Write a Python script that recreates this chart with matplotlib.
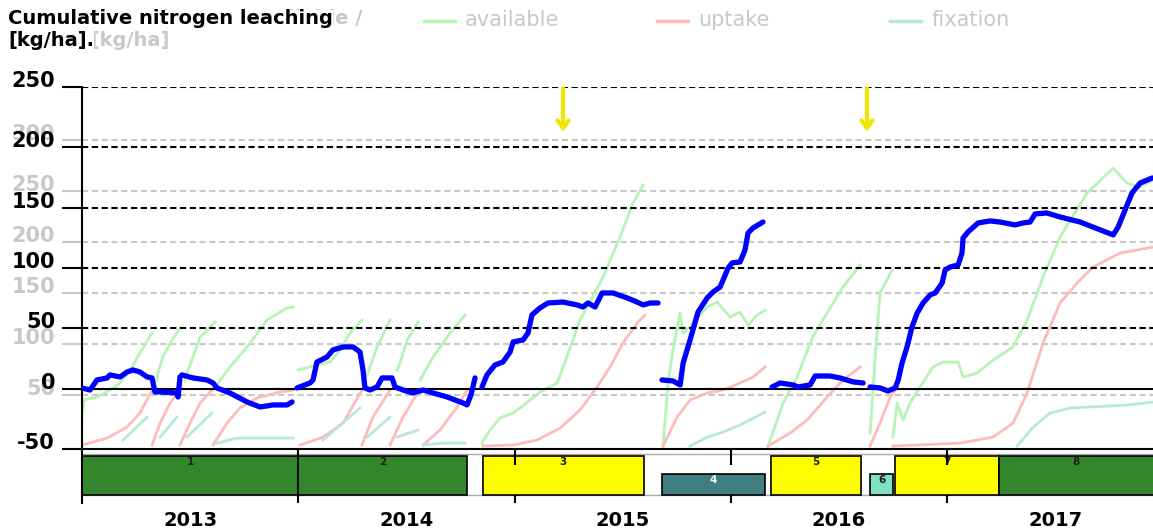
import matplotlib
matplotlib.use('Agg')
import matplotlib.pyplot as plt
from matplotlib.lines import Line2D

W, H, DPI = 1153, 532, 100

# time is in years since 1 Jan 2013
years = ['2013', '2014', '2015', '2016', '2017']
t_end = 4.951

# cumulative nitrogen leaching [kg/ha], one list per unbroken stretch
leach_t = [
    [0.000, 0.037, 0.069, 0.116, 0.129, 0.176, 0.208, 0.236, 0.268, 0.301, 0.324, 0.337, 0.361, 0.439,
     0.444, 0.453, 0.462, 0.513, 0.578, 0.606, 0.624, 0.684, 0.763, 0.823, 0.883, 0.948, 0.971],
    [0.994, 1.054, 1.068, 1.086, 1.133, 1.160, 1.207, 1.253, 1.285, 1.299, 1.308, 1.331, 1.364, 1.387,
     1.433, 1.447, 1.484, 1.530, 1.577, 1.623, 1.688, 1.762, 1.780, 1.798, 1.817],
    [1.849, 1.872, 1.909, 1.946, 1.979, 1.993, 2.039, 2.062, 2.080, 2.117, 2.154, 2.224, 2.288, 2.316,
     2.339, 2.372, 2.404, 2.455, 2.520, 2.566, 2.594, 2.626, 2.663],
    [2.681, 2.732, 2.765, 2.779, 2.811, 2.848, 2.890, 2.917, 2.950, 2.987, 3.005, 3.042, 3.065, 3.079,
     3.102, 3.148],
    [3.190, 3.227, 3.287, 3.310, 3.366, 3.389, 3.458, 3.504, 3.565, 3.611],
    [3.643, 3.689, 3.726, 3.759, 3.773, 3.791, 3.814, 3.837, 3.861, 3.888, 3.921, 3.944, 3.976, 3.990,
     4.013, 4.050, 4.068, 4.073, 4.096, 4.142, 4.198, 4.244, 4.313, 4.350, 4.383, 4.406, 4.461, 4.521,
     4.614, 4.767, 4.790, 4.822, 4.854, 4.892, 4.947],
]
leach_v = [
    [0.6, -1.1, 7.2, 8.9, 11.4, 9.7, 13.8, 15.5, 13.8, 9.7, 8.9, -2.7, -2.7, -3.6,
     -6.9, 9.7, 11.4, 8.9, 7.2, 4.7, 0.6, -3.6, -11.0, -15.2, -13.5, -13.5, -11.0],
    [0.6, 4.7, 7.2, 22.1, 26.3, 32.1, 34.6, 34.6, 30.4, 15.5, 0.6, -1.1, 1.4, 8.9,
     8.9, 1.4, -1.1, -3.6, -1.1, -3.6, -6.9, -11.9, -13.5, -5.2, 8.9],
    [1.4, 11.4, 19.6, 22.1, 30.4, 38.7, 40.4, 46.2, 61.1, 66.9, 71.0, 71.8, 69.4, 67.7,
     71.0, 67.7, 79.3, 79.3, 75.2, 71.8, 69.4, 71.0, 71.0],
    [7.2, 6.4, 3.1, 21.3, 40.4, 63.6, 75.2, 80.1, 84.3, 100.0, 104.2, 105.0, 114.9, 129.0,
     133.2, 138.1],
    [1.4, 4.7, 3.1, 1.4, 3.1, 10.5, 10.5, 8.9, 5.6, 4.7],
    [1.4, 0.6, -1.9, 0.6, 7.2, 21.3, 34.6, 51.2, 62.7, 71.0, 77.7, 79.3, 87.5, 98.3,
     100.8, 102.5, 112.4, 124.9, 129.9, 137.3, 139.0, 138.1, 135.7, 137.3, 138.1, 144.8, 145.6, 142.3,
     138.1, 127.4, 134.0, 148.1, 162.2, 170.5, 174.6],
]

# background series on the second (grey) scale [kg/ha]
avail_t = [
    [0.000, 0.009, 0.069, 0.129, 0.176, 0.222, 0.268, 0.324],
    [0.347, 0.351, 0.374, 0.416, 0.453],
    [0.476, 0.485, 0.513, 0.546, 0.615],
    [0.606, 0.684, 0.763, 0.855, 0.948, 0.975],
    [0.999, 1.086, 1.147, 1.193, 1.239, 1.294],
    [1.318, 1.331, 1.364, 1.424],
    [1.456, 1.470, 1.503, 1.553],
    [1.563, 1.623, 1.701, 1.771],
    [1.849, 1.886, 1.932, 1.993, 2.025, 2.071, 2.117, 2.196, 2.224, 2.302, 2.409, 2.487, 2.547, 2.594],
    [2.686, 2.709, 2.732, 2.765, 2.779, 2.811, 2.890, 2.936, 2.996, 3.042, 3.079, 3.121, 3.158],
    [3.172, 3.241, 3.306, 3.375, 3.444, 3.518, 3.597],
    [3.643, 3.666, 3.689, 3.745],
    [3.749, 3.768, 3.796, 3.828, 3.874, 3.934, 3.981, 4.050, 4.073, 4.138, 4.212, 4.304, 4.369, 4.443,
     4.521, 4.646, 4.767, 4.831, 4.891, 4.951],
]
avail_v = [
    [28.4, 45.1, 48.0, 54.9, 61.8, 74.5, 91.2, 110.8],
    [64.7, 71.6, 87.3, 103.9, 115.7],
    [64.7, 71.6, 87.3, 106.9, 121.6],
    [54.9, 77.5, 97.1, 123.5, 135.3, 136.3],
    [74.5, 79.4, 82.4, 94.1, 110.8, 123.5],
    [69.6, 77.5, 97.1, 123.5],
    [74.5, 81.4, 103.9, 121.6],
    [64.7, 87.3, 110.8, 128.4],
    [2.9, 15.7, 27.5, 32.4, 37.3, 45.1, 52.9, 61.8, 77.5, 123.5, 165.7, 204.9, 238.2, 255.9],
    [0.0, 61.8, 94.1, 130.4, 110.8, 116.7, 136.3, 141.2, 126.5, 131.4, 118.6, 128.4, 133.3],
    [0.0, 42.2, 67.6, 105.9, 130.4, 155.9, 177.5],
    [12.7, 84.3, 150.0, 172.5],
    [8.8, 42.2, 25.5, 42.2, 57.8, 77.5, 82.4, 82.4, 67.6, 71.6, 84.3, 97.1, 123.5, 165.7,
     204.9, 248.0, 272.5, 257.8, 253.9, 260.8],
]
uptake_t = [
    [0.000, 0.116, 0.208, 0.268, 0.324],
    [0.324, 0.361, 0.407, 0.453],
    [0.453, 0.499, 0.546, 0.601],
    [0.606, 0.670, 0.730, 0.809, 0.915, 0.975],
    [1.008, 1.114, 1.207, 1.294],
    [1.294, 1.345, 1.424],
    [1.424, 1.484, 1.540, 1.563],
    [1.577, 1.655, 1.734, 1.780],
    [1.854, 1.993, 2.104, 2.210, 2.302, 2.381, 2.441, 2.501, 2.566, 2.603],
    [2.686, 2.751, 2.811, 2.890, 2.963, 3.042, 3.102, 3.158],
    [3.172, 3.273, 3.352, 3.444, 3.518, 3.597],
    [3.643, 3.689, 3.736, 3.768],
    [3.749, 4.059, 4.212, 4.304, 4.369, 4.443, 4.521, 4.600, 4.674, 4.799, 4.951],
]
uptake_v = [
    [1.0, 7.8, 18.6, 32.4, 54.9],
    [1.0, 22.5, 42.2, 54.9],
    [1.0, 22.5, 42.2, 54.9],
    [1.0, 22.5, 37.3, 47.1, 52.9, 54.9],
    [1.0, 8.8, 22.5, 54.9],
    [1.0, 28.4, 54.9],
    [1.0, 28.4, 48.0, 54.9],
    [1.0, 15.7, 38.2, 54.9],
    [0.0, 1.0, 5.9, 17.6, 35.3, 57.8, 77.5, 101.0, 120.6, 128.4],
    [0.0, 28.4, 45.1, 52.0, 54.9, 61.8, 67.6, 77.5],
    [0.0, 12.7, 25.5, 48.0, 64.7, 77.5],
    [0.0, 22.5, 48.0, 57.8],
    [0.0, 2.9, 8.8, 22.5, 52.0, 101.0, 140.2, 159.8, 175.5, 189.2, 195.1],
]
fix_t = [
    [0.190, 0.301],
    [0.361, 0.439],
    [0.485, 0.601],
    [0.624, 0.717, 0.975],
    [1.114, 1.285],
    [1.318, 1.424],
    [1.456, 1.553],
    [1.577, 1.669, 1.771],
    [2.811, 2.890, 2.963, 3.042, 3.158],
    [4.323, 4.397, 4.475, 4.568, 4.831, 4.951],
]
fix_v = [
    [5.9, 28.4],
    [8.8, 28.4],
    [8.8, 32.4],
    [2.9, 7.8, 7.8],
    [5.9, 37.3],
    [8.8, 28.4],
    [8.8, 15.7],
    [1.0, 2.9, 2.9],
    [0.0, 8.8, 13.7, 20.6, 33.3],
    [0.0, 18.6, 32.4, 37.3, 40.2, 43.1],
]

# crops in the rotation
crop_no = ['1', '2', '3', '4', '5', '6', '7', '8']
crop_start = [0.000, 0.999, 1.852, 2.681, 3.185, 3.645, 3.759, 4.238]
crop_end = [0.999, 1.780, 2.598, 3.158, 3.601, 3.750, 4.238, 5.100]
crop_kind = ['grass', 'grass', 'main', 'catch', 'main', 'cover', 'main', 'grass']

# fertiliser applications (arrows)
fert_t = [2.224, 3.629]

main_ticks = [-50, 0, 50, 100, 150, 200, 250]
ghost_ticks = [50, 100, 150, 200, 250, 300]

GHOST = '#c8c8c8'
C_AVAIL = '#b6f3b6'
C_UPT = '#ffbaba'
C_FIX = '#b8e8d8'
kind_col = {'grass': '#33862b', 'main': '#ffff00', 'catch': '#3f7f7f', 'cover': '#80e0c4'}
DASH = (0, (3, 1.7))


def fx(px):
    return px / W


def fy(py):
    return 1 - py / H


fig = plt.figure(figsize=(W / DPI, H / DPI), dpi=DPI)

# header, grey text of the hidden scale first
fig.text(fx(362), fy(19), 'Nitrogen available /', ha='right', va='center', fontsize=14,
         fontweight='bold', color=GHOST)
fig.text(fx(8), fy(40), 'uptake [kg/ha]', ha='left', va='center', fontsize=14,
         fontweight='bold', color=GHOST)
fig.text(fx(8), fy(19), 'Cumulative nitrogen leaching', ha='left', va='center', fontsize=14,
         fontweight='bold', bbox=dict(fc='white', ec='none', pad=0))
fig.text(fx(8), fy(40), '[kg/ha].', ha='left', va='center', fontsize=14,
         fontweight='bold', bbox=dict(fc='white', ec='none', pad=0))

# legend
for x0, col, name in [(424, C_AVAIL, 'available'), (657, C_UPT, 'uptake'), (890, C_FIX, 'fixation')]:
    fig.add_artist(Line2D([fx(x0), fx(x0 + 31)], [fy(21), fy(21)], color=col, lw=2.5))
    fig.text(fx(x0 + 41), fy(20), name, ha='left', va='center', fontsize=15, color=GHOST)

ax = fig.add_axes([fx(82), fy(449), fx(1153) - fx(82), fy(87) - fy(449)])
ax2 = ax.twinx()
ax.set_zorder(3)
ax2.set_zorder(2)
ax.patch.set_visible(False)

ax.set_xlim(0, t_end)
ax.set_ylim(-50, 250)
ax2.set_ylim(-2.9, 352)
ax.set_xticks([])

# grey scale
ax2.yaxis.tick_left()
ax2.tick_params(axis='y', left=True, right=False, labelleft=True, labelright=False,
                length=14.4, width=1.5, color=GHOST, pad=5)
ax2.set_yticks(ghost_ticks)
ax2.set_yticklabels([str(v) for v in ghost_ticks], color=GHOST, fontsize=15, fontweight='bold')
for lab in ax2.get_yticklabels():
    lab.set_verticalalignment('baseline')
for s in ax2.spines.values():
    s.set_visible(False)
for v in ghost_ticks:
    ax2.axhline(v, color=GHOST, lw=1.5, ls=DASH, zorder=1)

for ts, vs in zip(avail_t, avail_v):
    ax2.plot(ts, vs, color=C_AVAIL, lw=2, zorder=2)
for ts, vs in zip(uptake_t, uptake_v):
    ax2.plot(ts, vs, color=C_UPT, lw=2, zorder=2)
for ts, vs in zip(fix_t, fix_v):
    ax2.plot(ts, vs, color=C_FIX, lw=2, zorder=2)

# leaching scale
ax.set_yticks(main_ticks)
ax.set_yticklabels([str(v) for v in main_ticks], fontsize=15, fontweight='bold')
ax.tick_params(axis='y', length=14.4, width=1.5, pad=5)
for lab in ax.get_yticklabels():
    lab.set_verticalalignment('baseline')
for v in main_ticks[2:]:
    ax.axhline(v, color='black', lw=1.5, ls=DASH, zorder=1)
ax.axhline(0, color='black', lw=1.5, zorder=1)
ax.spines['top'].set_visible(False)
ax.spines['right'].set_visible(False)
ax.spines['left'].set_linewidth(1.5)
ax.spines['bottom'].set_linewidth(1.5)

for ts, vs in zip(leach_t, leach_v):
    ax.plot(ts, vs, color='#0000ff', lw=3.8, solid_capstyle='round',
            solid_joinstyle='round', zorder=5)

for t in fert_t:
    ax.annotate('', xy=(t, 213), xytext=(t, 249),
                arrowprops=dict(arrowstyle='->,head_length=0.55,head_width=0.4',
                                color='#f2e600', lw=3, shrinkA=0, shrinkB=0), zorder=6)

# crop rotation strip
bx = fig.add_axes([fx(82), fy(503), fx(1153) - fx(82), fy(449) - fy(503)])
bx.set_xlim(0, t_end)
bx.set_ylim(0, 54)
bx.patch.set_visible(False)
for s in ['top', 'right', 'bottom']:
    bx.spines[s].set_visible(False)
bx.spines['left'].set_linewidth(1.5)
bx.set_yticks([])
bx.axhline(49, color='#a8a8a8', lw=1, zorder=1)
bx.axhline(8, color='#a8a8a8', lw=1, zorder=1)
for s0, s1, no, kind in zip(crop_start, crop_end, crop_no, crop_kind):
    top = 29 if kind in ('catch', 'cover') else 47
    bx.bar(s0, top - 8, width=s1 - s0, bottom=8, align='edge', color=kind_col[kind],
           edgecolor='black', lw=1.2, zorder=2)
    bx.text((s0 + min(s1, t_end)) / 2, top - 0.8, no, ha='center', va='top', fontsize=7.5,
            fontweight='bold', color='white' if kind == 'catch' else '#202020', zorder=3)
bx.vlines([1, 2, 3, 4], 38, 54, color='black', lw=1.5, zorder=4)
bx.vlines([1, 2, 3, 4], 0, 8, color='black', lw=1.5, zorder=4)
bx.set_xticks([i + 0.5 for i in range(len(years))])
bx.set_xticklabels(years, fontsize=14, fontweight='bold')
bx.tick_params(axis='x', length=0, pad=6)

fig.savefig('out.png', dpi=DPI)
